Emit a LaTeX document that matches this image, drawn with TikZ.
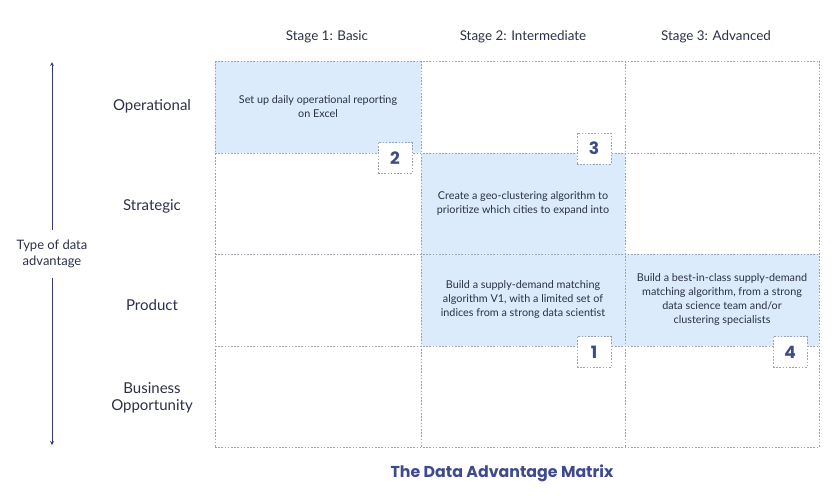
\documentclass[tikz,border=0pt]{standalone}
\usepackage{fontspec}
\setmainfont{Lato}
\newfontfamily\poppins{Poppins}
\usepackage{xcolor}
\definecolor{inktext}{HTML}{2B3048}
\definecolor{navy}{HTML}{3E4A8C}
\definecolor{cellblue}{HTML}{DBEBFC}
\definecolor{gridgray}{HTML}{9CA2AE}

\begin{document}
\begin{tikzpicture}[x=1pt, y=-1pt, every node/.style={text=inktext, inner sep=0pt},
    gridline/.style={gridgray, line width=0.7pt, dash pattern=on 1.6pt off 1.6pt},
    rowlabel/.style={font=\fontsize{15}{17}\selectfont, align=center},
    stagelabel/.style={font=\fontsize{13.4}{15}\selectfont},
    cell/.style={fill=cellblue, minimum width=#1, minimum height=92pt, align=center, font=\fontsize{10.8}{14}\selectfont},
    badge/.style={draw=gridgray, fill=white, line width=0.7pt, dash pattern=on 1.6pt off 1.6pt, minimum width=34pt, minimum height=31pt, text=navy, font=\poppins\bfseries\fontsize{17}{17}\selectfont},
    axisarrow/.style={->, >=stealth, navy!80!black, line width=0.8pt}]
    \useasboundingbox (0,0) rectangle (839,499);
    % stage headings
    \node[stagelabel] (st1) at (327,37) {Stage 1: Basic};
    \node[stagelabel] (st2) at (523,37) {Stage 2: Intermediate};
    \node[stagelabel] (st3) at (716,37) {Stage 3: Advanced};
    % row headings
    \node[rowlabel] (opr) at (152,106) {Operational};
    \node[rowlabel] (str) at (152,206) {Strategic};
    \node[rowlabel] (prd) at (152,305) {Product};
    \node[rowlabel] (bus) at (152,398) {Business\\Opportunity};
    % filled cells
    \node[cell=206pt] (c11) at (318,107) {Set up daily operational reporting\\on Excel};
    \node[cell=204pt, minimum height=101pt] (c22) at (523,203.5) {Create a geo-clustering algorithm to\\prioritize which cities to expand into};
    \node[cell=204pt] (c23) at (523,300) {Build a supply-demand matching\\algorithm V1, with a limited set of\\indices from a strong data scientist};
    \node[cell=194pt] (c33) at (722,300) {Build a best-in-class supply-demand\\matching algorithm, from a strong\\data science team and/or\\clustering specialists};
    % grid
    \foreach \gx in {215,421,625,819}
        \draw[gridline] (\gx,61) -- (\gx,447);
    \foreach \gy in {61,153,254,346,447}
        \draw[gridline] (215,\gy) -- (819,\gy);
    % stage badges
    \node[badge] (b2) at (395,158) {2};
    \node[badge] (b3) at (594,148.5) {3};
    \node[badge] (b1) at (594,352) {1};
    \node[badge] (b4) at (790,352) {4};
    % axis
    \node[font=\fontsize{13}{16}\selectfont, align=center] (adv) at (52,254) {Type of data\\advantage};
    \coordinate (axtop) at (52,62);
    \coordinate (axbot) at (52,445);
    \draw[axisarrow] ([yshift=10pt]adv.north) -- (axtop);
    \draw[axisarrow] ([yshift=-10pt]adv.south) -- (axbot);
    % title
    \node[font=\poppins\bfseries\fontsize{15.8}{17}\selectfont, text=navy] (title) at (502,473) {The Data Advantage Matrix};
\end{tikzpicture}
\end{document}
